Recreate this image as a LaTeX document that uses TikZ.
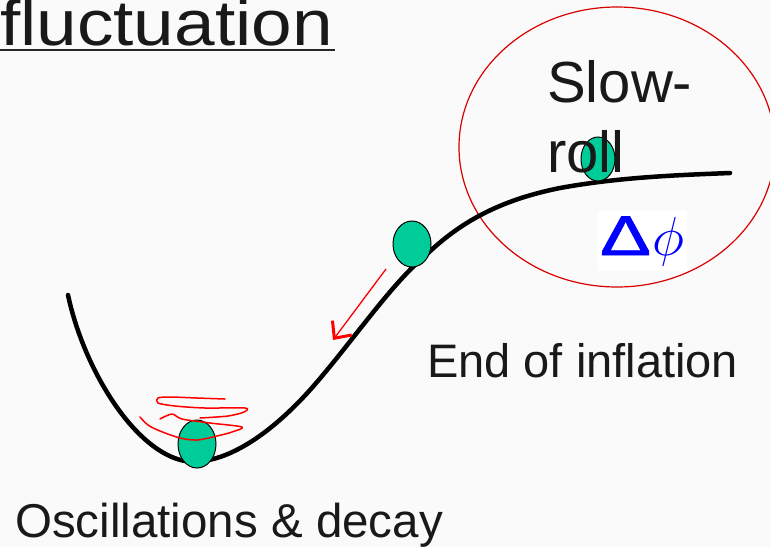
\RequirePackage{fix-cm}
\documentclass[tikz,border=0pt]{standalone}
\usepackage{fontspec}
\setmainfont{Liberation Sans}
\newfontfamily\deltafont[FakeBold=1.3]{Liberation Sans}
\usepackage{tikz}
\usetikzlibrary{shapes.geometric,arrows.meta}

\begin{document}
\begin{tikzpicture}[x=1pt, y=-1pt,
        ball/.style={ellipse, draw=black, line width=1pt, fill=ballgreen, inner sep=0pt},
        label/.style={inner sep=0pt, text=black!90},
        scribble/.style={red, line width=1.5pt, line cap=round, line join=round}
    ]
        \definecolor{ballgreen}{RGB}{0,204,153}

        % Background
        \fill[gray!4] (0,0) rectangle (770,547);
        \useasboundingbox (0,0) rectangle (770,547);

        % Title, cut at the top
        \node[label, anchor=base east, xscale=1.14, font=\fontsize{64}{70}\selectfont] (title) at (333,45) {fluctuation};
        \draw[line width=2.5pt, black!85] (0,50) -- (335,50);

        % Red circle round the slow-roll part
        \draw[red!85!black, line width=1.2pt] (617,147) ellipse [x radius=158pt, y radius=140pt];

        % Potential
        \draw[line width=4.5pt, line cap=round] (68,295)
            .. controls (84,370) and (135,452) .. (185,461)
            .. controls (220,466) and (265,440) .. (310,390)
            .. controls (350,345) and (390,285) .. (425,256)
            .. controls (460,222) and (500,200) .. (560,188)
            .. controls (620,177) and (680,175) .. (730,173);

        % Balls
        \node[ball, minimum width=38pt, minimum height=48pt] (ballbottom) at (197,444) {};
        \node[ball, minimum width=38pt, minimum height=46pt] (ballmid) at (412,244) {};
        \node[ball, minimum width=34pt, minimum height=44pt] (balltop) at (598,159) {};

        % Rolling down
        \coordinate (arrowstart) at (386,269);
        \coordinate (arrowend) at (333,340);
        \draw[red, line width=1.3pt, -{Straight Barb[length=13pt, width=24pt, line width=3pt]}] (arrowstart) -- (arrowend);

        % Oscillation scribbles
        \draw[scribble] plot[smooth, tension=0.5] coordinates {
            (225,399) (197,398) (170,397) (158,398) (158,403) (175,406) (205,408)
            (245,408) (244,412) (228,416) (200,418)
        };
        \draw[scribble] plot[smooth, tension=0.5] coordinates {
            (160,419) (172,414) (182,419) (210,423) (242,427) (232,432) (217,436)
            (197,440) (180,438) (160,431) (148,425) (140,417)
        };

        % Labels
        \node[label, anchor=base west, font=\fontsize{58}{64}\selectfont] (slow) at (547,102) {Slow-};
        \node[label, anchor=base west, font=\fontsize{58}{64}\selectfont] (roll) at (547,172) {roll};
        \node[label, anchor=base west, font=\fontsize{47}{52}\selectfont] (endinfl) at (427,377) {End of inflation};
        \node[label, anchor=base west, font=\fontsize{47.5}{52}\selectfont] (oscill) at (15,537) {Oscillations \& decay};
        \node[anchor=base west, fill=white, inner xsep=2pt, inner ysep=5pt, text=blue, font=\fontsize{55}{60}\selectfont] (dphi) at (598,255) {\scalebox{1.38}[1.02]{\deltafont Δ}\kern2pt$\phi$};

    \end{tikzpicture}
\end{document}
